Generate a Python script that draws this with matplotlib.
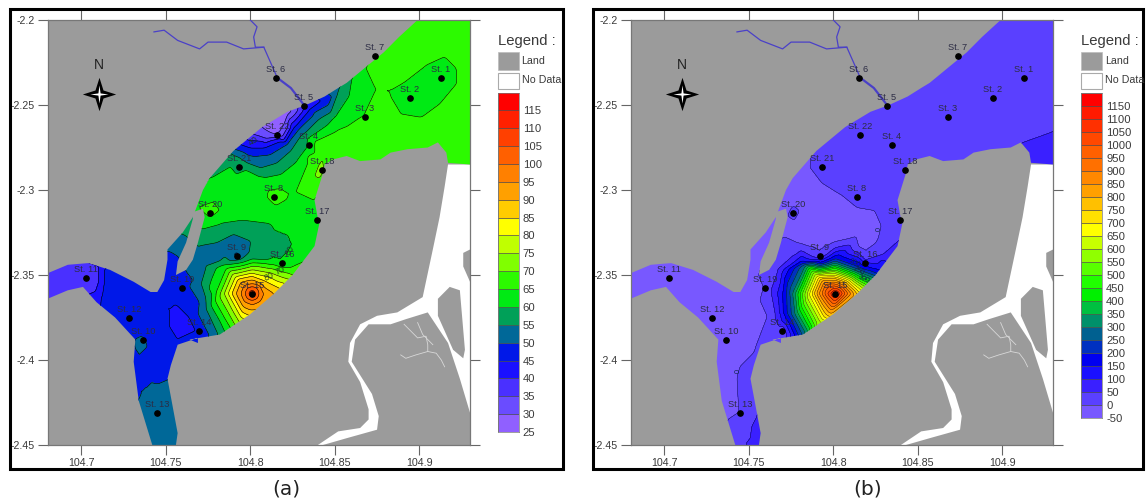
import matplotlib
matplotlib.use("Agg")
import matplotlib.pyplot as plt
import numpy as np
from matplotlib.patches import Polygon, Rectangle
from matplotlib.path import Path
from matplotlib.tri import Triangulation, LinearTriInterpolator

plt.rcParams['font.family'] = ['Liberation Sans', 'DejaVu Sans']

# ---------- stations ----------
station_names = ['St. 1','St. 2','St. 3','St. 4','St. 5','St. 6','St. 7','St. 8','St. 9','St. 10','St. 11',
                 'St. 12','St. 13','St. 14','St. 15','St. 16','St. 17','St. 18','St. 19','St. 20','St. 21','St. 22']
station_lon = [104.9128,104.8945,104.8679,104.8347,104.8318,104.8152,104.8738,104.8140,104.7921,104.7365,104.7028,
               104.7282,104.7448,104.7696,104.8010,104.8188,104.8395,104.8424,104.7596,104.7762,104.7933,104.8158]
station_lat = [-2.2341,-2.2459,-2.2571,-2.2735,-2.2506,-2.2341,-2.2212,-2.3041,-2.3388,-2.3882,-2.3518,
               -2.3753,-2.4312,-2.3829,-2.3612,-2.3429,-2.3176,-2.2882,-2.3576,-2.3135,-2.2865,-2.2676]

# ---------- geography ----------
water = [(104.899,-2.200),(104.930,-2.200),(104.930,-2.285),(104.917,-2.284),(104.916,-2.278),(104.911,-2.272),
         (104.905,-2.275),(104.893,-2.276),(104.883,-2.278),(104.877,-2.282),(104.865,-2.283),(104.857,-2.280),
         (104.849,-2.282),(104.844,-2.285),(104.843,-2.290),(104.838,-2.306),(104.840,-2.317),(104.841,-2.319),
         (104.838,-2.333),(104.825,-2.350),(104.814,-2.361),(104.800,-2.373),(104.782,-2.385),(104.776,-2.386),
         (104.764,-2.388),(104.769,-2.390),(104.769,-2.387),(104.757,-2.391),(104.753,-2.403),(104.751,-2.411),
         (104.754,-2.427),(104.757,-2.443),(104.756,-2.450),(104.742,-2.450),(104.734,-2.424),(104.731,-2.401),
         (104.732,-2.388),(104.720,-2.375),(104.709,-2.366),(104.701,-2.357),(104.692,-2.359),(104.680,-2.364),
         (104.680,-2.349),(104.692,-2.344),(104.704,-2.343),(104.717,-2.347),(104.731,-2.354),(104.741,-2.360),
         (104.745,-2.360),(104.749,-2.353),(104.751,-2.341),(104.751,-2.335),(104.760,-2.325),(104.766,-2.316),
         (104.772,-2.300),(104.776,-2.293),(104.790,-2.277),(104.807,-2.263),(104.822,-2.254),(104.833,-2.250),
         (104.844,-2.245),(104.852,-2.240),(104.857,-2.237),(104.868,-2.228),(104.879,-2.219),(104.888,-2.210)]
no_data = [(104.917,-2.285),(104.930,-2.285),(104.930,-2.335),(104.926,-2.337),(104.926,-2.345),(104.930,-2.354),
           (104.930,-2.431),(104.924,-2.411),(104.917,-2.390),(104.905,-2.372),(104.892,-2.376),(104.883,-2.379),
           (104.870,-2.379),(104.862,-2.388),(104.860,-2.401),(104.872,-2.420),(104.876,-2.433),(104.875,-2.441),
           (104.857,-2.446),(104.843,-2.450),(104.840,-2.450),(104.852,-2.442),(104.865,-2.440),(104.870,-2.435),
           (104.870,-2.429),(104.865,-2.413),(104.858,-2.401),(104.859,-2.390),(104.865,-2.379),(104.875,-2.374),
           (104.887,-2.372),(104.902,-2.363),(104.908,-2.335),(104.912,-2.316),(104.915,-2.298)]
east_island = [(104.911,-2.364),(104.918,-2.357),(104.924,-2.359),(104.927,-2.394),(104.926,-2.399),(104.920,-2.394),(104.911,-2.374)]
finger_island = [(104.766,-2.313),(104.772,-2.311),(104.773,-2.316),(104.769,-2.331),(104.766,-2.341),(104.762,-2.347),
                 (104.756,-2.350),(104.757,-2.342),(104.762,-2.331),(104.766,-2.317)]
river_main = [(104.743,-2.207),(104.749,-2.206),(104.757,-2.212),(104.770,-2.217),(104.775,-2.213),(104.786,-2.213),
              (104.796,-2.217),(104.808,-2.216),(104.816,-2.234)]
river_lower = [(104.816,-2.234),(104.824,-2.240),(104.831,-2.249)]
river_branch = [(104.800,-2.200),(104.804,-2.204),(104.802,-2.210),(104.803,-2.216),(104.808,-2.216)]
creek_1 = [(104.891,-2.379),(104.899,-2.387),(104.904,-2.386),(104.905,-2.391),(104.905,-2.395),(104.910,-2.396),(104.913,-2.400),(104.915,-2.404)]
creek_2 = [(104.889,-2.397),(104.892,-2.399),(104.898,-2.397),(104.905,-2.395)]
creek_3 = [(104.899,-2.378),(104.902,-2.385),(104.908,-2.391)]

# ---------- panel (a): values ----------
a_levels = list(range(25, 125, 5))
a_colors = ['#9060ff','#6a4cff','#4a30ff','#1a10ff','#0018e8','#006898','#00a058','#00ea14','#2cfa00','#80ff00',
            '#c0ff00','#ffff00','#ffcc00','#ffa000','#ff8000','#ff6000','#ff4000','#ff2000','#ff0000']
a_67 = [(104.925,-2.205),(104.90,-2.205),(104.89,-2.225),(104.925,-2.27),(104.925,-2.21),(104.90,-2.27),(104.885,-2.275),
        (104.865,-2.27),(104.86,-2.28),(104.93,-2.285),(104.93,-2.2),(104.875,-2.22),(104.845,-2.29),(104.85,-2.275),
        (104.885,-2.205),(104.93,-2.25),(104.88,-2.25),(104.86,-2.265)]
a_62 = [(104.79,-2.31),(104.80,-2.30),(104.83,-2.315),(104.80,-2.31),(104.775,-2.30),(104.835,-2.33),(104.84,-2.31),
        (104.81,-2.295),(104.8945,-2.2459),(104.9128,-2.2341),(104.84,-2.325),(104.90,-2.2415),(104.79,-2.295),(104.825,-2.32)]
a_65 = [(104.868,-2.228),(104.874,-2.241),(104.867,-2.256),(104.851,-2.265),(104.838,-2.271),(104.834,-2.280),(104.827,-2.301),(104.838,-2.306),
        (104.915,-2.222),(104.922,-2.229),(104.922,-2.237),(104.912,-2.249),(104.901,-2.257),(104.889,-2.255),(104.883,-2.245),(104.891,-2.237),(104.904,-2.227),
        (104.810,-2.304),(104.815,-2.309),(104.822,-2.305),(104.818,-2.299),(104.811,-2.300),
        (104.769,-2.310),(104.776,-2.316),(104.782,-2.312),(104.778,-2.307),
        (104.7891,-2.3824),(104.7798,-2.3609),(104.7861,-2.3460),(104.8011,-2.3428),(104.8137,-2.3438),(104.8236,-2.3458),(104.8324,-2.3418)]
a_station_67 = [(104.8140,-2.3041),(104.7762,-2.3135)]
a_70 = [(104.8403,-2.2860),(104.8430,-2.2810),(104.8520,-2.2815),(104.8600,-2.2830),
        (104.7915,-2.3803),(104.7822,-2.3609),(104.7879,-2.3477),(104.8011,-2.3448),(104.8171,-2.3477),(104.8255,-2.3503)]
a_72 = [(104.8424,-2.2882)]
a_60 = [(104.8596,-2.2360),(104.8582,-2.2448),(104.8503,-2.2566),(104.8375,-2.2674),(104.8335,-2.2753),(104.8275,-2.2831),(104.8177,-2.2909),
        (104.8059,-2.2919),(104.7980,-2.2880),(104.7941,-2.2851),(104.7881,-2.2860),(104.7763,-2.2929),
        (104.771,-2.323),(104.782,-2.320),(104.796,-2.318),(104.812,-2.320),(104.824,-2.325),(104.827,-2.332),(104.824,-2.338),(104.764,-2.312),
        (104.7865,-2.3846),(104.7773,-2.3609),(104.7844,-2.3442),(104.8011,-2.3407),(104.8117,-2.3413),(104.8188,-2.3429)]
a_58 = [(104.7933,-2.2865)]
a_55 = [(104.8517,-2.2429),(104.8474,-2.2546),(104.8403,-2.2586),(104.8295,-2.2684),(104.8236,-2.2772),(104.8157,-2.2841),(104.8059,-2.2870),
        (104.7980,-2.2841),(104.7921,-2.2802),(104.7872,-2.2778),
        (104.757,-2.325),(104.762,-2.327),(104.769,-2.333),(104.780,-2.331),(104.790,-2.326),(104.800,-2.330),(104.799,-2.337),(104.794,-2.341),
        (104.782,-2.342),(104.774,-2.345),(104.771,-2.355),(104.774,-2.370),(104.781,-2.385)]
a_52 = [(104.785,-2.336),(104.78,-2.337),(104.765,-2.34),(104.7448,-2.4312),(104.75,-2.45),(104.74,-2.45),(104.755,-2.43),(104.735,-2.390)]
a_50 = [(104.8454,-2.2448),(104.8374,-2.2547),(104.8285,-2.2645),(104.8216,-2.2733),(104.8118,-2.2792),(104.8019,-2.2802),(104.7911,-2.2762),
        (104.752,-2.336),(104.757,-2.339),(104.762,-2.348),(104.766,-2.353),(104.770,-2.366),(104.776,-2.386),
        (104.734,-2.423),(104.745,-2.414),(104.752,-2.411),
        (104.732,-2.388),(104.736,-2.386),(104.739,-2.392),(104.736,-2.395),(104.732,-2.393)]
a_49 = [(104.7921,-2.3388)]
a_47 = [(104.745,-2.37),(104.735,-2.365),(104.72,-2.36),(104.745,-2.40),(104.76,-2.355),(104.745,-2.355),(104.755,-2.345),(104.7282,-2.3753),(104.7596,-2.3576),
        (104.74,-2.375),(104.75,-2.39),(104.725,-2.37)]
a_45 = [(104.8453,-2.2453),(104.8344,-2.2537),(104.8256,-2.2635),(104.8177,-2.2713),(104.8078,-2.2753),(104.7999,-2.2753),(104.7941,-2.2733),
        (104.749,-2.368),(104.756,-2.367),(104.764,-2.375),(104.768,-2.383),(104.757,-2.388),(104.752,-2.380),
        (104.713,-2.346),(104.713,-2.355),(104.712,-2.362)]
a_43 = [(104.759,-2.378)]
a_40 = [(104.8325,-2.2508),(104.8236,-2.2615),(104.8167,-2.2684),(104.8078,-2.2713),(104.7990,-2.2708),
        (104.711,-2.345),(104.711,-2.354),(104.709,-2.360)]
a_38 = [(104.68,-2.35),(104.68,-2.36),(104.69,-2.345),(104.7028,-2.3518),(104.70,-2.355),(104.68,-2.34),(104.68,-2.37)]
a_35 = [(104.8285,-2.2508),(104.8226,-2.2625),(104.8187,-2.2694),(104.8088,-2.2698),(104.8019,-2.2674)]
a_30 = [(104.8246,-2.2537),(104.8203,-2.2615),(104.8173,-2.2664),(104.8118,-2.2664),(104.8069,-2.2635),(104.8158,-2.2676)]
a_27 = [(104.8138,-2.2615),(104.8216,-2.2537)]
a_75 = [(104.7940,-2.3783),(104.7846,-2.3609),(104.7895,-2.3493),(104.8011,-2.3469),(104.8141,-2.3495),(104.8232,-2.3526)]
a_80 = [(104.7966,-2.3759),(104.7869,-2.3609),(104.7913,-2.3511),(104.8011,-2.3489),(104.8111,-2.3511),(104.8206,-2.3550)]
a_85 = [(104.7993,-2.3738),(104.7891,-2.3609),(104.7926,-2.3524),(104.8011,-2.3507),(104.8088,-2.3536),(104.8177,-2.3579)]
a_90 = [(104.8035,-2.3703),(104.7916,-2.3609),(104.7944,-2.3542),(104.8011,-2.3528),(104.8068,-2.3556),(104.8141,-2.3610)]
a_95 = [(104.7944,-2.3609),(104.7964,-2.3561),(104.8011,-2.3552),(104.8058,-2.3561),(104.8078,-2.3609),(104.8058,-2.3656),(104.8011,-2.3675),(104.7964,-2.3656)]
a_100 = [(104.7970,-2.3609),(104.8011,-2.3567),(104.8052,-2.3609),(104.8011,-2.3650)]
a_105 = [(104.7989,-2.3609),(104.8011,-2.3587),(104.8033,-2.3609),(104.8011,-2.3630)]
a_112 = [(104.8010,-2.3612)]
a_corners = [(104.67,-2.19),(104.94,-2.19),(104.94,-2.46),(104.67,-2.46)]
a_corner_val = [45, 67, 67, 47]
a_tables = [(27,a_27),(30,a_30),(35,a_35),(38,a_38),(40,a_40),(43,a_43),(45,a_45),(47,a_47),(49,a_49),(50,a_50),(52,a_52),
            (55,a_55),(58,a_58),(60,a_60),(62,a_62),(65,a_65),(67,a_67),(67,a_station_67),(70,a_70),(72,a_72),(75,a_75),
            (80,a_80),(85,a_85),(90,a_90),(95,a_95),(100,a_100),(105,a_105),(112,a_112)]

# ---------- panel (b) ----------
b_levels = list(range(-50, 1250, 50))
b_colors = ['#7858ff','#5a40ff','#3a20ff','#1a10ff','#0000f0','#0030c0','#006090','#00906a','#00c040','#00f000',
            '#20ff00','#58ff00','#90ff00','#c8ff00','#ffff00','#ffe000','#ffc000','#ffa000','#ff8800','#ff7000',
            '#ff6000','#ff4800','#ff3000','#ff1a00','#ff0000']
b_m20 = [(104.80,-2.32),(104.785,-2.31),(104.81,-2.32),(104.78,-2.30),(104.775,-2.32),(104.76,-2.325),(104.755,-2.34),(104.75,-2.36),
         (104.74,-2.37),(104.72,-2.36),(104.70,-2.35),(104.68,-2.355),(104.74,-2.40),(104.735,-2.42),(104.68,-2.34),(104.68,-2.37),
         (104.73,-2.455),(104.815,-2.325),(104.765,-2.31)]
b_0 = [(104.7873,-2.2811),(104.7864,-2.2869),(104.7932,-2.2958),(104.8041,-2.3026),(104.8139,-2.3105),(104.8248,-2.3124),(104.8287,-2.3212),
       (104.8267,-2.3291),(104.8257,-2.3311),(104.8207,-2.3379),(104.7705,-2.3276),(104.7804,-2.3321),(104.7922,-2.3385),(104.8010,-2.3311),
       (104.8079,-2.3295),(104.8148,-2.3340),(104.8194,-2.3393),(104.7557,-2.3497),(104.7591,-2.3575),(104.7571,-2.3644),(104.7616,-2.3742),
       (104.7695,-2.3824),(104.7537,-2.3947),(104.7448,-2.4036),(104.7432,-2.4094),(104.7438,-2.4212),(104.7444,-2.4306),(104.7373,-2.4353),
       (104.7735,-2.3154),(104.7764,-2.3178),(104.7800,-2.3125),(104.7764,-2.3095)]
b_25 = [(104.87,-2.22),(104.90,-2.24),(104.92,-2.22),(104.86,-2.26),(104.84,-2.28),(104.80,-2.27),(104.82,-2.255),(104.845,-2.30),
        (104.835,-2.32),(104.90,-2.265),(104.87,-2.27),(104.795,-2.275),(104.899,-2.2),(104.93,-2.2),(104.7488,-2.4173),(104.745,-2.445),
        (104.7762,-2.3135),(104.833,-2.31),(104.885,-2.25),(104.93,-2.24),(104.84,-2.255)]
b_50 = [(104.7636,-2.3609),(104.7656,-2.3713),(104.7685,-2.3811),(104.7717,-2.3934),(104.7764,-2.3389),(104.7922,-2.3401),(104.8010,-2.3340),
        (104.8099,-2.3321),(104.8221,-2.3399),(104.8296,-2.3379),(104.8385,-2.3301),(104.8408,-2.3242),(104.7676,-2.3468),
        (104.7547,-2.4330),(104.7517,-2.4388),(104.7478,-2.4496),(104.9106,-2.2723),(104.9299,-2.2654)]
b_60 = [(104.9283,-2.2821),(104.9165,-2.2821),(104.93,-2.29)]
b_70 = [(104.7557,-2.4467),(104.76,-2.455)]
b_100 = [(104.7670,-2.3609),(104.7695,-2.3771),(104.7746,-2.3911),(104.7794,-2.3405),(104.7922,-2.3415),(104.8010,-2.3364),(104.8192,-2.3428),(104.8296,-2.3405),(104.8326,-2.3428)]
b_150 = [(104.7701,-2.3609),(104.7776,-2.3887),(104.7813,-2.3419),(104.7922,-2.3428),(104.8010,-2.3387),(104.8174,-2.3446),(104.8290,-2.3479)]
b_200 = [(104.7725,-2.3609),(104.7745,-2.3752),(104.7800,-2.3869),(104.7823,-2.3432),(104.8010,-2.3405),(104.8162,-2.3458),(104.8270,-2.3495)]
b_300 = [(104.7760,-2.3609),(104.7774,-2.3732),(104.7835,-2.3840),(104.7835,-2.3448),(104.8010,-2.3430),(104.8142,-2.3477),(104.8241,-2.3519)]
b_400 = [(104.7790,-2.3609),(104.7863,-2.3818),(104.7857,-2.3456),(104.8010,-2.3450),(104.8127,-2.3493),(104.8219,-2.3536)]
b_500 = [(104.7817,-2.3609),(104.7890,-2.3797),(104.7874,-2.3473),(104.8010,-2.3470),(104.8113,-2.3507),(104.8196,-2.3556)]
b_600 = [(104.7845,-2.3609),(104.7920,-2.3773),(104.7894,-2.3493),(104.8010,-2.3491),(104.8099,-2.3521),(104.8172,-2.3573)]
b_700 = [(104.7873,-2.3609),(104.7947,-2.3750),(104.7914,-2.3513),(104.8010,-2.3511),(104.8083,-2.3536),(104.8146,-2.3593)]
b_800 = [(104.7900,-2.3609),(104.7979,-2.3726),(104.7934,-2.3532),(104.8010,-2.3530),(104.8069,-2.3550),(104.8121,-2.3615)]
b_900 = [(104.7932,-2.3609),(104.8010,-2.3687),(104.7955,-2.3554),(104.8010,-2.3552),(104.8052,-2.3568),(104.8089,-2.3609)]
b_1000 = [(104.7963,-2.3609),(104.8010,-2.3575),(104.8058,-2.3609),(104.8010,-2.3656)]
b_1100 = [(104.7995,-2.3609),(104.8010,-2.3597),(104.8026,-2.3609),(104.8010,-2.3625)]
b_1130 = [(104.8010,-2.3612)]
b_corners = [(104.67,-2.19),(104.94,-2.19),(104.94,-2.46),(104.67,-2.46)]
b_corner_val = [25, 25, 60, -20]
b_tables = [(-20,b_m20),(0,b_0),(25,b_25),(50,b_50),(60,b_60),(70,b_70),(100,b_100),(150,b_150),(200,b_200),(300,b_300),(400,b_400),
            (500,b_500),(600,b_600),(700,b_700),(800,b_800),(900,b_900),(1000,b_1000),(1100,b_1100),(1130,b_1130)]

x_ticks = [104.7, 104.75, 104.8, 104.85, 104.9]
y_ticks = [-2.2, -2.25, -2.3, -2.35, -2.4, -2.45]
x_tick_labels = ['104.7', '104.75', '104.8', '104.85', '104.9']
y_tick_labels = ['-2.2', '-2.25', '-2.3', '-2.35', '-2.4', '-2.45']
star_outer = [(0,1),(.24,.24),(1,0),(.24,-.24),(0,-1),(-.24,-.24),(-1,0),(-.24,.24),(0,1)]
star_inner = [(0,1),(.12,.12),(1,0),(.12,-.12),(0,-1),(-.12,-.12),(-1,0),(-.12,.12),(0,1)]

W, H = 1146, 504
LAND = '#9b9b9b'
TXT = '#3a3a3a'
fig = plt.figure(figsize=(W/100, H/100), dpi=100, facecolor='white')


def frac(x0, y0, x1, y1):
    return [x0/W, 1-y1/H, (x1-x0)/W, (y1-y0)/H]


def collect(tables, extra):
    seen = {}
    for val, pts in tables:
        for p in pts:
            seen[p] = val
    for p, val in extra:
        seen[p] = val
    return [p[0] for p in seen], [p[1] for p in seen], list(seen.values())


def soften(z, passes=3):
    # light 3x3 box smoothing to round the corners of the triangulated field
    z = np.asarray(z, float)
    for _ in range(passes):
        p = np.pad(z, 1, mode='edge')
        z = sum(p[1+dy:p.shape[0]-1+dy, 1+dx:p.shape[1]-1+dx] for dy in (-1, 0, 1) for dx in (-1, 0, 1)) / 9
    return z


def draw_map(ax, tables, levels, colors, extra, line_width):
    ax.set_facecolor(LAND)
    ax.set_xlim(104.68, 104.93)
    ax.set_ylim(-2.45, -2.2)
    ax.add_patch(Polygon(no_data, closed=True, fc='white', ec='none', zorder=1))
    ax.add_patch(Polygon(east_island, closed=True, fc=LAND, ec='none', zorder=1.5))
    for creek in (creek_1, creek_2, creek_3):
        ax.plot(*zip(*creek), color='#d8d8d8', lw=0.6, zorder=1.6)
    clip = Polygon(water, closed=True, fc='none', ec='none', transform=ax.transData)
    ax.add_patch(clip)
    xs, ys, vs = collect(tables, extra)
    tri = Triangulation(xs, ys)
    gx, gy = np.meshgrid(np.linspace(104.67, 104.94, 500), np.linspace(-2.46, -2.19, 500))
    gz = soften(np.ma.filled(LinearTriInterpolator(tri, vs)(gx, gy), np.mean(vs)))
    cf = ax.contourf(gx, gy, gz, levels=levels, colors=colors, zorder=2, extend='both')
    cl = ax.contour(gx, gy, gz, levels=levels[1:-1], colors='black', linewidths=line_width, zorder=2.2)
    cf.set_clip_path(clip)
    cl.set_clip_path(clip)
    ax.add_patch(Polygon(finger_island, closed=True, fc=LAND, ec='none', zorder=3))
    for r, lw in ((river_main, 0.9), (river_branch, 0.9), (river_lower, 1.6)):
        ax.plot(*zip(*r), color='#4a40c8', lw=lw, zorder=3)
    ax.plot(station_lon, station_lat, 'o', color='black', ms=3.8, zorder=5, clip_on=False)
    for n, lo, la in zip(station_names, station_lon, station_lat):
        ax.annotate(n, (lo, la), xytext=(0, 2.6), textcoords='offset points', ha='center', va='bottom',
                    fontsize=6.7, color='#2c2c44', zorder=6)
    ax.set_xticks(x_ticks)
    ax.set_xticklabels(x_tick_labels)
    ax.set_yticks(y_ticks)
    ax.set_yticklabels(y_tick_labels)
    ax.tick_params(axis='both', direction='out', length=7, width=0.8, color='#666666', labelcolor=TXT,
                   labelsize=7.7, top=True, right=True, pad=2)
    for s in ax.spines.values():
        s.set_color('#777777')
        s.set_linewidth(0.9)
    # north arrow
    ax.text(104.7105, -2.2265, 'N', fontsize=10, color='#222222', ha='center', va='center', zorder=6)
    ax.plot([104.7105], [-2.2433], marker=Path(star_outer), ms=24, color='black', mew=0, zorder=6)
    ax.plot([104.7105], [-2.2433], marker=Path(star_inner), ms=13, color='white', mew=0, zorder=6.1)


def draw_legend(x0, top, bottom, levels, colors, ticks):
    lg = fig.add_axes(frac(x0, top, x0+21, bottom))
    for lo, hi, c in zip(levels[:-1], levels[1:], colors):
        lg.bar(0, hi-lo, bottom=lo, width=1, color=c, edgecolor='#444444', linewidth=0.4)
    lg.set_xlim(-.5, .5)
    lg.set_ylim(levels[0], levels[-1])
    lg.set_xticks([])
    lg.yaxis.tick_right()
    lg.set_yticks(ticks)
    lg.set_yticklabels([str(t) for t in ticks])
    lg.tick_params(axis='y', length=0, labelsize=8.1, labelcolor=TXT, pad=3)
    for s in lg.spines.values():
        s.set_color('#777777')
        s.set_linewidth(0.5)
    fig.text(x0/W, 1-41/H, 'Legend :', fontsize=10.7, color=TXT, va='center', ha='left')
    fig.add_artist(Rectangle((x0/W, 1-70/H), 21/W, 18/H, transform=fig.transFigure, fc=LAND, ec='#bbbbbb', lw=0.5))
    fig.add_artist(Rectangle((x0/W, 1-89/H), 21/W, 16/H, transform=fig.transFigure, fc='white', ec='#aaaaaa', lw=0.8))
    fig.text((x0+24)/W, 1-60.5/H, 'Land', fontsize=7.7, color=TXT, va='center', ha='left')
    fig.text((x0+24)/W, 1-80/H, 'No Data', fontsize=7.7, color=TXT, va='center', ha='left')


# panel (a)
ax_a = fig.add_axes(frac(47.5, 20, 470, 445))
draw_map(ax_a, a_tables, a_levels, a_colors, list(zip(a_corners, a_corner_val)), 0.4)
for s, lo, la, rot in (('40', 104.8018, -2.2715, 35), ('70', 104.8177, -2.3477, 25), ('80', 104.8112, -2.3511, 25), ('60', 104.8232, -2.3354, 60)):
    ax_a.text(lo, la, s, fontsize=6.4, color='#1c3a28', ha='center', va='center', rotation=rot, zorder=4)
draw_legend(497.5, 92.5, 432, a_levels, a_colors, list(range(25, 120, 5)))

# panel (b)
ax_b = fig.add_axes(frac(630.5, 20, 1053, 445))
draw_map(ax_b, b_tables, b_levels, b_colors, list(zip(b_corners, b_corner_val)), 0.25)
for s, lo, la, rot in (('0', 104.827, -2.3232, 90), ('0', 104.7438, -2.4065, 90), ('200', 104.8129, -2.3428, -25),
                       ('250', 104.8148, -2.3477, -25), ('300', 104.8182, -2.3526, -25)):
    ax_b.text(lo, la, s, fontsize=5.2, color='#10284a', ha='center', va='center', rotation=rot, zorder=4)
draw_legend(1081, 93, 418, b_levels, b_colors, list(range(-50, 1200, 50)))

# frames and captions
fig.add_artist(Rectangle((9.5/W, 1-469/H), 553/W, 460/H, transform=fig.transFigure, fc='none', ec='black', lw=2.2))
fig.add_artist(Rectangle((592.5/W, 1-469/H), 550/W, 460/H, transform=fig.transFigure, fc='none', ec='black', lw=2.2))
fig.text(286/W, 1-489/H, '(a)', fontsize=14.5, family='DejaVu Sans', color='#222222', ha='center', va='center')
fig.text(868/W, 1-489/H, '(b)', fontsize=14.5, family='DejaVu Sans', color='#222222', ha='center', va='center')

fig.savefig('out.png', dpi=100, facecolor='white')
